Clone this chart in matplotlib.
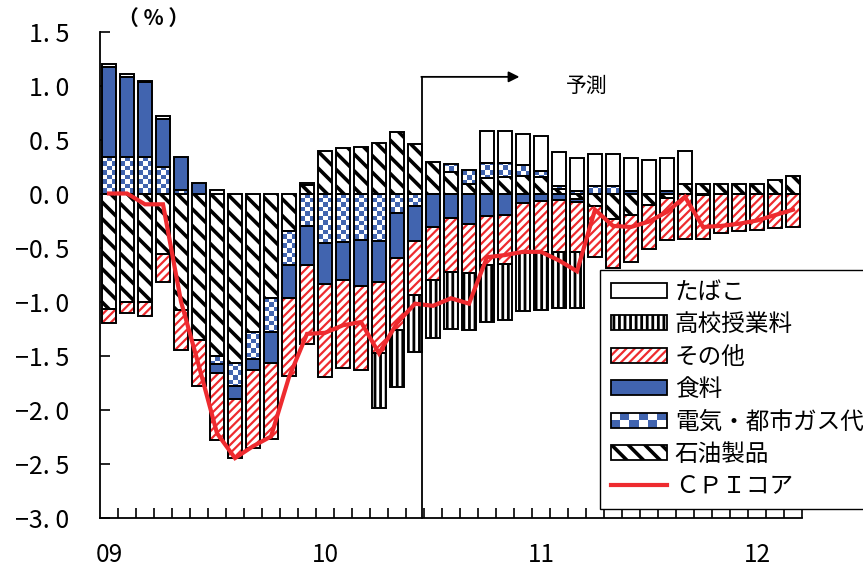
import numpy as np
import matplotlib
matplotlib.use('Agg')
import matplotlib.pyplot as plt
from matplotlib.patches import Rectangle, Patch
from matplotlib.lines import Line2D
from matplotlib.colors import ListedColormap
from matplotlib.legend_handler import HandlerBase

plt.rcParams['font.family'] = ['Noto Sans CJK JP', 'DejaVu Sans']

# ── data (monthly, 2009/01 - 2012/03) ───────────────────────────────────────
year_labels = ['09', '10', '11', '12']

oil = [-1.07, -1.00, -1.00, -0.56, -1.08, -1.36, -1.50, -1.57, -1.28, -0.97, -0.35,
       0.08, 0.39, 0.42, 0.43, 0.47, 0.57, 0.46, 0.29, 0.20, 0.09,
       0.14, 0.15, 0.16, 0.15, 0.04, -0.05, -0.12, -0.24, -0.20, -0.11,
       -0.04, 0.09, 0.09, 0.09, 0.09, 0.09, 0.125, 0.16]
elec = [0.34, 0.34, 0.34, 0.25, 0.03, 0.0, -0.08, -0.21, -0.25, -0.31, -0.31,
        -0.30, -0.46, -0.45, -0.43, -0.44, -0.18, -0.12, 0.0, 0.07, 0.13,
        0.14, 0.13, 0.10, 0.06, 0.03, 0.026, 0.066, 0.066, 0.0, 0.0,
        0.0, 0.0, 0.0, 0.0, 0.0, 0.0, 0.0, 0.0]
food = [0.83, 0.74, 0.69, 0.44, 0.31, 0.10, -0.08, -0.12, -0.10, -0.29, -0.31,
        -0.36, -0.38, -0.35, -0.43, -0.38, -0.42, -0.32, -0.31, -0.23, -0.28,
        -0.21, -0.20, -0.09, -0.07, -0.06, -0.03, 0.0, 0.0, 0.026, 0.0,
        0.026, 0.0, -0.01, 0.0, 0.0, 0.0, 0.0, 0.0]
other = [-0.13, -0.11, -0.13, -0.26, -0.37, -0.42, -0.62, -0.55, -0.73, -0.70, -0.72,
         -0.73, -0.86, -0.82, -0.77, -0.66, -0.66, -0.50, -0.49, -0.50, -0.46,
         -0.45, -0.45, -0.46, -0.47, -0.48, -0.46, -0.465, -0.45, -0.43, -0.40,
         -0.39, -0.42, -0.415, -0.37, -0.35, -0.34, -0.32, -0.31]
school = [0.0] * 15 + [-0.51, -0.53, -0.53, -0.54, -0.52, -0.52,
                       -0.53, -0.52, -0.54, -0.54, -0.52, -0.52] + [0.0] * 12
tobacco = [0.03, 0.025, 0.01, 0.025, 0.0, 0.0, 0.03, 0.0, 0.0, 0.0, 0.0,
           0.015, 0.0, 0.0, 0.0, 0.0, 0.0, 0.0, 0.0, 0.0, 0.0,
           0.30, 0.30, 0.29, 0.32, 0.31, 0.30, 0.30, 0.30, 0.30, 0.31,
           0.30, 0.30, 0.0, 0.0, 0.0, 0.0, 0.0, 0.0]
cpi_core = [0.0, 0.0, -0.10, -0.10, -1.00, -1.60, -2.22, -2.45, -2.34, -2.25, -1.70,
            -1.30, -1.29, -1.22, -1.19, -1.48, -1.20, -1.02, -1.04, -0.97, -1.02,
            -0.59, -0.57, -0.54, -0.54, -0.62, -0.72, -0.15, -0.30, -0.31, -0.26,
            -0.17, -0.03, -0.31, -0.30, -0.28, -0.25, -0.20, -0.15]

# ────────────────────────────────────────────────────────────────────────────────

BLUE = '#4164AF'
RED = '#EE2B2F'
BAR_W = 0.78

styles = {
    '石油製品': dict(kind='hatch', hatch='\\\\', hcolor='black', hlw=2.6),
    '電気・都市ガス代': dict(kind='checker'),
    '食料': dict(kind='fill', face=BLUE),
    'その他': dict(kind='hatch', hatch='////', hcolor=RED, hlw=1.6),
    '高校授業料': dict(kind='hatch', hatch='|||', hcolor='black', hlw=2.0),
    'たばこ': dict(kind='fill', face='white'),
}
series = [('石油製品', oil), ('電気・都市ガス代', elec), ('食料', food),
          ('その他', other), ('高校授業料', school), ('たばこ', tobacco)]

fig = plt.figure(figsize=(8.63, 5.69), dpi=100)
ax = fig.add_axes([100 / 863, 51.5 / 569, 702 / 863, 486 / 569])

n = len(cpi_core)
xc = np.arange(n) + 0.5
pos_base = np.zeros(n)
neg_base = np.zeros(n)
checker_cmap = ListedColormap([BLUE, 'white'])


def set_hlw(patches, lw):
    for p in patches:
        if hasattr(p, 'set_hatch_linewidth'):
            p.set_hatch_linewidth(lw)


def draw_checker(p, cw, ch):
    x0, w = p.get_x(), p.get_width()
    y0, h = p.get_y(), p.get_height()
    lo, hi = min(y0, y0 + h), max(y0, y0 + h)
    r0, r1 = int(np.floor(lo / ch)), int(np.ceil(hi / ch))
    ncol = max(1, int(round(w / cw)))
    grid = (np.arange(r0, r1)[:, None] + np.arange(ncol)[None, :]) % 2
    im = ax.imshow(grid, cmap=checker_cmap, vmin=0, vmax=1, origin='lower',
                   extent=(x0, x0 + w, r0 * ch, r1 * ch), interpolation='nearest',
                   aspect='auto', zorder=2.2)
    im.set_clip_path(p)


for name, vals in series:
    v = np.array(vals, dtype=float)
    bottom = np.where(v >= 0, pos_base, neg_base)
    pos_base += np.clip(v, 0, None)
    neg_base += np.clip(v, None, 0)
    keep = v != 0
    st = styles[name]
    if st['kind'] == 'hatch':
        plt.rcParams['hatch.linewidth'] = st['hlw']
        bars = ax.bar(xc[keep], v[keep], BAR_W, bottom=bottom[keep], color='white',
                      edgecolor=st['hcolor'], hatch=st['hatch'], linewidth=0, zorder=2)
        set_hlw(bars, st['hlw'])
    elif st['kind'] == 'checker':
        bars = ax.bar(xc[keep], v[keep], BAR_W, bottom=bottom[keep], color='white',
                      linewidth=0, zorder=2)
        for p in bars:
            draw_checker(p, BAR_W / 3, 0.042)
    else:
        ax.bar(xc[keep], v[keep], BAR_W, bottom=bottom[keep], color=st['face'],
               linewidth=0, zorder=2)
    ax.bar(xc[keep], v[keep], BAR_W, bottom=bottom[keep], fill=False,
           edgecolor='black', linewidth=1.4, zorder=3)

ax.plot(xc, cpi_core, color=RED, lw=3, zorder=4, solid_joinstyle='miter')

# forecast marker
ax.plot([17.9, 17.9], [-3.0, 1.08], color='black', lw=1.3, zorder=5, clip_on=False)
ax.annotate('', xy=(23.3, 1.08), xytext=(17.85, 1.08),
            arrowprops=dict(arrowstyle='-|>', color='black', lw=1.3,
                            mutation_scale=16, shrinkA=0, shrinkB=0), zorder=5)
ax.text(27.05, 1.0, '予測', fontsize=15, ha='center', va='center')

# axes
ax.set_xlim(0, n)
ax.set_ylim(-3.0, 1.5)
for s in ['top', 'right']:
    ax.spines[s].set_visible(False)
for s in ['left', 'bottom']:
    ax.spines[s].set_linewidth(1.3)
yt = np.arange(-3.0, 1.51, 0.5)
ax.set_yticks(yt)
ax.set_yticklabels([f'{t:.1f}'.replace('-', '−').replace('.', '. ') for t in yt])
ax.set_xticks(np.arange(1, n + 1))
ax.set_xticklabels([])
ax.tick_params(axis='both', direction='in', length=7, width=1.2, color='black')
ax.tick_params(axis='y', labelsize=18, pad=22)
for k, lab in enumerate(year_labels):
    ax.text(12 * k + 0.5, -0.077, lab, transform=ax.get_xaxis_transform(),
            fontsize=17.5, ha='center', va='center')
ax.text(0.077, 1.026, '（ % ）', transform=ax.transAxes, fontsize=15,
        fontweight='bold', ha='center', va='center')


# legend
class SwatchHandler(HandlerBase):
    def __init__(self, st):
        super().__init__()
        self.st = st

    def create_artists(self, legend, orig_handle, xdescent, ydescent,
                       width, height, fontsize, trans):
        x0, y0 = -xdescent, -ydescent
        st = self.st
        arts = []
        if st['kind'] == 'checker':
            nx, ny = 6, 2
            for i in range(nx):
                for j in range(ny):
                    arts.append(Rectangle((x0 + i * width / nx, y0 + j * height / ny),
                                          width / nx, height / ny, transform=trans,
                                          facecolor=BLUE if (i + j) % 2 == 0 else 'white',
                                          edgecolor='none'))
        elif st['kind'] == 'hatch':
            r = Rectangle((x0, y0), width, height, transform=trans, facecolor='white',
                          edgecolor=st['hcolor'], hatch=st['hatch'], linewidth=0)
            set_hlw([r], st['hlw'])
            arts.append(r)
        else:
            arts.append(Rectangle((x0, y0), width, height, transform=trans,
                                  facecolor=st['face'], edgecolor='none'))
        arts.append(Rectangle((x0, y0), width, height, transform=trans,
                              fill=False, edgecolor='black', linewidth=1.3))
        return arts


handles, labels, hmap = [], [], {}
for name, _ in series[::-1]:
    h = Patch()
    handles.append(h)
    labels.append(name)
    hmap[h] = SwatchHandler(styles[name])
handles.append(Line2D([], [], color=RED, lw=3))
labels.append('ＣＰＩコア')

leg = fig.legend(handles, labels, handler_map=hmap, loc='upper left',
                 bbox_to_anchor=(600 / 863, 1 - 270 / 569), borderaxespad=0,
                 fontsize=17, handlelength=2.37, handleheight=0.6, handletextpad=0.35,
                 labelspacing=0.4, borderpad=0.45, fancybox=False, framealpha=1)
leg.get_frame().set_edgecolor('black')
leg.get_frame().set_linewidth(1.0)

plt.rcParams['hatch.linewidth'] = 2.0
fig.savefig('out.png', dpi=100)
